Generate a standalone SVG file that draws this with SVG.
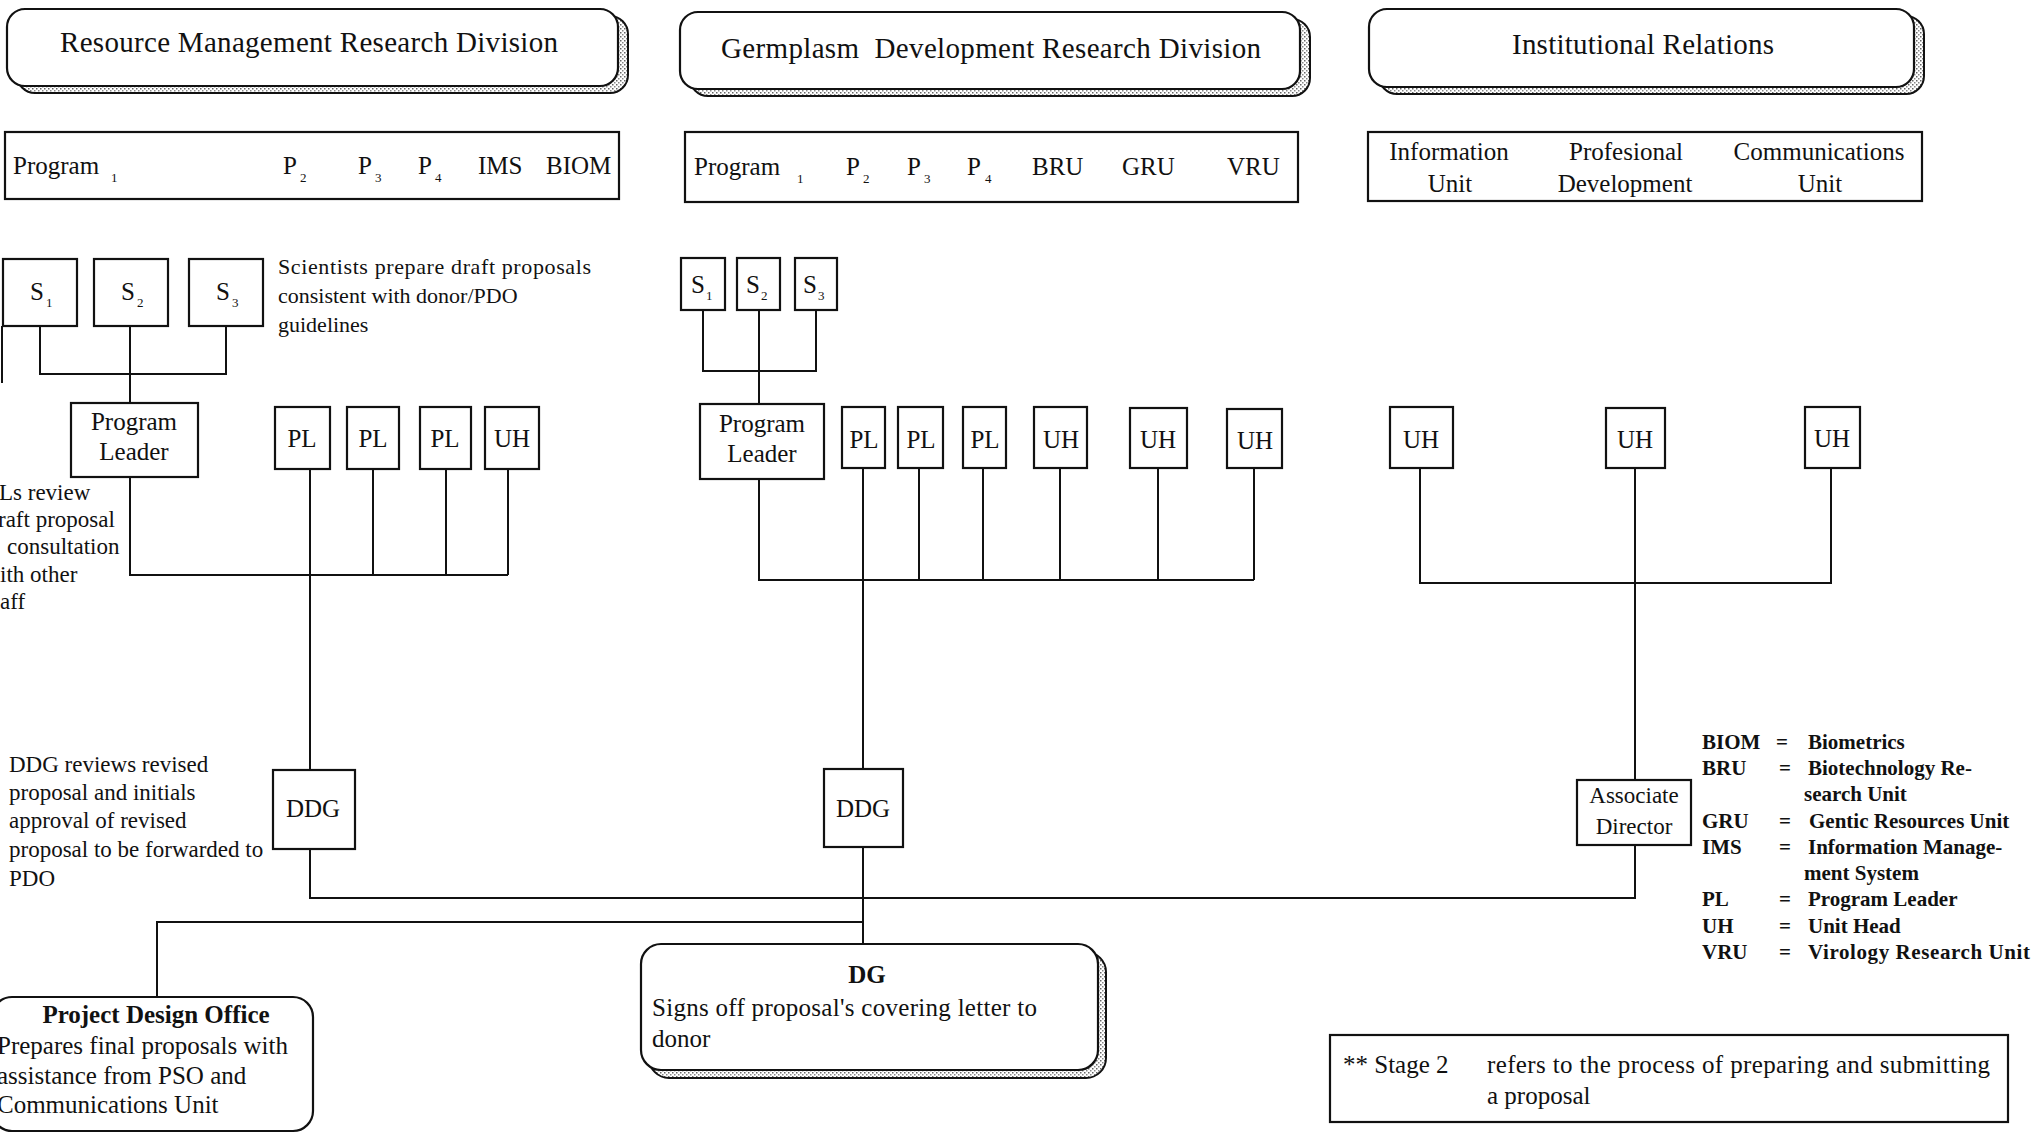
<svg xmlns="http://www.w3.org/2000/svg" width="2044" height="1135" viewBox="0 0 2044 1135">
  <style>
    text { font-family: "Liberation Serif", "Times New Roman", serif; fill: #111; }
    .box { fill: #fff; stroke: #111; stroke-width: 2.2; }
    .shadow { fill: url(#stipple); stroke: #111; stroke-width: 2; }
    .ln { fill: none; stroke: #111; stroke-width: 2; }
    .t25 { font-size: 25px; }
    .t29 { font-size: 29px; }
    .t23 { font-size: 23px; }
    .t22 { font-size: 22px; }
    .sub { font-size: 13px; }
    .mid { text-anchor: middle; }
    .legend { font-size: 21px; font-weight: bold; }
    .bold { font-weight: bold; }
  </style>
  <defs>
    <pattern id="stipple" width="4" height="4" patternUnits="userSpaceOnUse">
      <rect width="4" height="4" fill="#fff"/>
      <rect x="0" y="0" width="1.5" height="1.5" fill="#666"/>
      <rect x="2" y="2" width="1.5" height="1.5" fill="#888"/>
    </pattern>
  </defs>

  <rect width="2044" height="1135" fill="#fff"/>

  <!-- connectors -->
  <g id="connectors">
    <!-- Resource Management: scientists to program leader -->
    <path class="ln" d="M40 326V374H226V326M130 326V403"/>
    <path class="ln" d="M2 326V383"/>
    <!-- program leader / PL / UH review bus -->
    <path class="ln" d="M130 477V575H508M373 469V575M446 469V575M508 469V575"/>
    <!-- PL to DDG -->
    <path class="ln" d="M310 469V770"/>
    <!-- Germplasm: scientists to program leader -->
    <path class="ln" d="M703 310V371H816V310M759 310V404"/>
    <!-- program leader / PL / UH review bus -->
    <path class="ln" d="M759 479V580H1254M919 468V580M983 468V580M1060 468V580M1158 468V580M1254 468V580"/>
    <!-- PL to DDG -->
    <path class="ln" d="M863 468V769"/>
    <!-- Institutional Relations unit heads -->
    <path class="ln" d="M1420 468V583H1831V468M1635 468V780"/>
    <!-- DDGs and Associate Director to DG -->
    <path class="ln" d="M310 849V898H1635V845"/>
    <path class="ln" d="M863 847V944"/>
    <!-- branch to Project Design Office -->
    <path class="ln" d="M863 922H157V997"/>
  </g>

  <!-- division headers -->
  <g id="hdr-rmrd">
    <rect class="shadow" x="17" y="16" width="611" height="77" rx="18"/>
    <rect class="box" x="7" y="9" width="611" height="77" rx="18"/>
    <text class="t29 mid" x="309" y="52" textLength="498">Resource Management Research Division</text>
  </g>
  <g id="hdr-gdrd">
    <rect class="shadow" x="690" y="19" width="620" height="77" rx="18"/>
    <rect class="box" x="680" y="12" width="620" height="77" rx="18"/>
    <text class="t29 mid" x="991" y="58" textLength="540" xml:space="preserve">Germplasm  Development Research Division</text>
  </g>
  <g id="hdr-ir">
    <rect class="shadow" x="1379" y="16" width="545" height="78" rx="18"/>
    <rect class="box" x="1369" y="9" width="545" height="78" rx="18"/>
    <text class="t29 mid" x="1643" y="54" textLength="262">Institutional Relations</text>
  </g>

  <!-- program rows -->
  <g id="row-rmrd">
    <rect class="box" x="5" y="132" width="614" height="67"/>
    <text class="t25" x="13" y="174">Program</text><text class="sub" x="111" y="182">1</text>
    <text class="t25" x="283" y="174">P</text><text class="sub" x="300" y="182">2</text>
    <text class="t25" x="358" y="174">P</text><text class="sub" x="375" y="182">3</text>
    <text class="t25" x="418" y="174">P</text><text class="sub" x="435" y="182">4</text>
    <text class="t25" x="478" y="174">IMS</text>
    <text class="t25" x="546" y="174">BIOM</text>
  </g>
  <g id="row-gdrd">
    <rect class="box" x="685" y="132" width="613" height="70"/>
    <text class="t25" x="694" y="175">Program</text><text class="sub" x="797" y="183">1</text>
    <text class="t25" x="846" y="175">P</text><text class="sub" x="863" y="183">2</text>
    <text class="t25" x="907" y="175">P</text><text class="sub" x="924" y="183">3</text>
    <text class="t25" x="967" y="175">P</text><text class="sub" x="985" y="183">4</text>
    <text class="t25" x="1032" y="175">BRU</text>
    <text class="t25" x="1122" y="175">GRU</text>
    <text class="t25" x="1227" y="175">VRU</text>
  </g>
  <g id="row-ir">
    <rect class="box" x="1368" y="132" width="554" height="69"/>
    <text class="t25 mid" x="1449" y="160">Information</text>
    <text class="t25 mid" x="1450" y="192">Unit</text>
    <text class="t25 mid" x="1626" y="160">Profesional</text>
    <text class="t25 mid" x="1625" y="192">Development</text>
    <text class="t25 mid" x="1819" y="160">Communications</text>
    <text class="t25 mid" x="1820" y="192">Unit</text>
  </g>

  <!-- Resource Management scientists -->
  <g id="rm-s1"><rect class="box" x="3" y="259" width="74" height="67"/><text class="t25" x="30" y="300">S</text><text class="sub" x="46" y="307">1</text></g>
  <g id="rm-s2"><rect class="box" x="94" y="259" width="74" height="67"/><text class="t25" x="121" y="300">S</text><text class="sub" x="137" y="307">2</text></g>
  <g id="rm-s3"><rect class="box" x="189" y="259" width="74" height="67"/><text class="t25" x="216" y="300">S</text><text class="sub" x="232" y="307">3</text></g>
  <g id="note-scientists">
    <text class="t22" x="278" y="274" textLength="313">Scientists prepare draft proposals</text>
    <text class="t22" x="278" y="303">consistent with donor/PDO</text>
    <text class="t22" x="278" y="332">guidelines</text>
  </g>

  <g id="rm-leader">
    <rect class="box" x="71" y="403" width="127" height="74"/>
    <text class="t25 mid" x="134" y="430">Program</text>
    <text class="t25 mid" x="134" y="460">Leader</text>
  </g>
  <g id="rm-pl1"><rect class="box" x="275" y="407" width="55" height="62"/><text class="t25 mid" x="302" y="447">PL</text></g>
  <g id="rm-pl2"><rect class="box" x="347" y="407" width="52" height="62"/><text class="t25 mid" x="373" y="447">PL</text></g>
  <g id="rm-pl3"><rect class="box" x="420" y="407" width="51" height="62"/><text class="t25 mid" x="445" y="447">PL</text></g>
  <g id="rm-uh"><rect class="box" x="485" y="407" width="54" height="62"/><text class="t25 mid" x="512" y="447">UH</text></g>

  <g id="note-pls">
    <text class="t23" x="-1" y="500">Ls review</text>
    <text class="t23" x="-2" y="527">raft proposal</text>
    <text class="t23" x="7" y="554">consultation</text>
    <text class="t23" x="0" y="582">ith other</text>
    <text class="t23" x="0" y="609">aff</text>
  </g>

  <!-- Germplasm scientists -->
  <g id="gd-s1"><rect class="box" x="681" y="258" width="44" height="52"/><text class="t25" x="691" y="293">S</text><text class="sub" x="706" y="300">1</text></g>
  <g id="gd-s2"><rect class="box" x="737" y="258" width="43" height="52"/><text class="t25" x="746" y="293">S</text><text class="sub" x="761" y="300">2</text></g>
  <g id="gd-s3"><rect class="box" x="795" y="258" width="42" height="52"/><text class="t25" x="803" y="293">S</text><text class="sub" x="818" y="300">3</text></g>

  <g id="gd-leader">
    <rect class="box" x="700" y="404" width="124" height="75"/>
    <text class="t25 mid" x="762" y="432">Program</text>
    <text class="t25 mid" x="762" y="462">Leader</text>
  </g>
  <g id="gd-pl1"><rect class="box" x="842" y="407" width="43" height="61"/><text class="t25 mid" x="864" y="448">PL</text></g>
  <g id="gd-pl2"><rect class="box" x="898" y="407" width="45" height="61"/><text class="t25 mid" x="921" y="448">PL</text></g>
  <g id="gd-pl3"><rect class="box" x="963" y="407" width="43" height="61"/><text class="t25 mid" x="985" y="448">PL</text></g>
  <g id="gd-uh1"><rect class="box" x="1034" y="407" width="53" height="61"/><text class="t25 mid" x="1061" y="448">UH</text></g>
  <g id="gd-uh2"><rect class="box" x="1130" y="408" width="57" height="60"/><text class="t25 mid" x="1158" y="448">UH</text></g>
  <g id="gd-uh3"><rect class="box" x="1227" y="409" width="55" height="59"/><text class="t25 mid" x="1255" y="449">UH</text></g>

  <!-- Institutional Relations unit heads -->
  <g id="ir-uh1"><rect class="box" x="1390" y="407" width="63" height="61"/><text class="t25 mid" x="1421" y="448">UH</text></g>
  <g id="ir-uh2"><rect class="box" x="1606" y="408" width="59" height="60"/><text class="t25 mid" x="1635" y="448">UH</text></g>
  <g id="ir-uh3"><rect class="box" x="1805" y="407" width="55" height="61"/><text class="t25 mid" x="1832" y="447">UH</text></g>

  <!-- deputy directors and associate director -->
  <g id="rm-ddg"><rect class="box" x="273" y="770" width="82" height="79"/><text class="t25 mid" x="313" y="817">DDG</text></g>
  <g id="gd-ddg"><rect class="box" x="824" y="769" width="79" height="78"/><text class="t25 mid" x="863" y="817">DDG</text></g>
  <g id="ir-ad">
    <rect class="box" x="1577" y="780" width="114" height="65"/>
    <text class="t23 mid" x="1634" y="803">Associate</text>
    <text class="t23 mid" x="1634" y="834">Director</text>
  </g>

  <g id="note-ddg">
    <text class="t23" x="9" y="772">DDG reviews revised</text>
    <text class="t23" x="9" y="800">proposal and initials</text>
    <text class="t23" x="9" y="828">approval of revised</text>
    <text class="t23" x="9" y="857">proposal to be forwarded to</text>
    <text class="t23" x="9" y="886">PDO</text>
  </g>

  <!-- Director General -->
  <g id="dg">
    <rect class="shadow" x="649" y="952" width="457" height="126" rx="20"/>
    <rect class="box" x="641" y="944" width="457" height="126" rx="20"/>
    <text class="t25 mid bold" x="867" y="983">DG</text>
    <text class="t25" x="652" y="1016" textLength="385">Signs off proposal's covering letter to</text>
    <text class="t25" x="652" y="1047">donor</text>
  </g>

  <!-- Project Design Office -->
  <g id="pdo">
    <rect class="box" x="-8" y="997" width="321" height="134" rx="20"/>
    <text class="t25 mid bold" x="156" y="1023">Project Design Office</text>
    <text class="t25" x="-3" y="1054">Prepares final proposals with</text>
    <text class="t25" x="-3" y="1084">assistance from PSO and</text>
    <text class="t25" x="-3" y="1113">Communications Unit</text>
  </g>

  <!-- abbreviations -->
  <g id="legend" class="legend">
    <text x="1702" y="749">BIOM</text><text x="1776" y="749">=</text><text x="1808" y="749">Biometrics</text>
    <text x="1702" y="775">BRU</text><text x="1779" y="775">=</text><text x="1808" y="775">Biotechnology Re-</text>
    <text x="1804" y="801">search Unit</text>
    <text x="1702" y="828">GRU</text><text x="1779" y="828">=</text><text x="1809" y="828">Gentic Resources Unit</text>
    <text x="1702" y="854">IMS</text><text x="1779" y="854">=</text><text x="1808" y="854">Information Manage-</text>
    <text x="1804" y="880">ment System</text>
    <text x="1702" y="906">PL</text><text x="1779" y="906">=</text><text x="1808" y="906">Program Leader</text>
    <text x="1702" y="933">UH</text><text x="1779" y="933">=</text><text x="1808" y="933">Unit Head</text>
    <text x="1702" y="959">VRU</text><text x="1779" y="959">=</text><text x="1808" y="959" textLength="222">Virology Research Unit</text>
  </g>

  <!-- stage note -->
  <g id="stage-note">
    <rect class="box" x="1330" y="1035" width="678" height="87"/>
    <text class="t25" x="1343" y="1073">** Stage 2</text>
    <text class="t25" x="1487" y="1073" textLength="503">refers to the process of preparing and submitting</text>
    <text class="t25" x="1487" y="1104">a proposal</text>
  </g>
</svg>
